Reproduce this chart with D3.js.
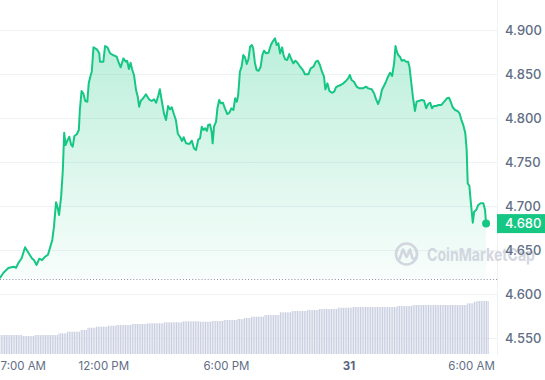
<!DOCTYPE html>
<html><head><meta charset="utf-8">
<script src="https://cdn.jsdelivr.net/npm/d3@7"></script>
<style>
html,body{margin:0;padding:0;background:#fff;}
svg{display:block;font-family:Inter,"Noto Sans",sans-serif;}
</style>
</head><body><svg id="c" width="545" height="380"></svg>
<script>
// ---------- DATA ----------
const startTime = new Date(2023, 9, 30, 7, 0); // 7:00 AM, Oct 30
// price samples: minutes after 7:00 AM and price (USD)
const priceMinutes = [
-4,6,21,36,44,50,60,70,80,90,
96,104,112,120,129,137,143,150,155,161,
165,170,176,181,185,189,195,200,205,210,
215,222,228,231,236,241,247,253,257,263,
266,271,281,288,290,300,305,312,320,328,
339,344,351,359,366,370,375,380,385,390,
396,401,405,410,417,425,434,442,449,455,
461,466,472,478,484,490,496,501,508,513,
519,525,531,536,543,553,560,566,572,579,
584,589,594,599,604,608,613,618,621,625,
631,635,640,645,651,657,664,670,676,682,
687,692,696,701,706,711,716,721,726,731,
736,740,745,750,756,762,767,772,778,785,
792,797,804,809,814,819,825,829,834,840,
846,852,858,864,870,878,886,892,902,909,
917,924,930,936,942,948,952,958,964,971,
978,983,990,997,1005,1013,1019,1024,1029,1036,
1044,1052,1062,1071,1078,1088,1095,1101,1107,1113,
1118,1124,1130,1136,1142,1148,1154,1158,1162,1166,
1171,1176,1183,1189,1195,1199,1204,1209,1215,1220,
1228,1236,1242,1248,1254,1260,1265,1271,1277,1285,
1293,1301,1309,1315,1320,1326,1333,1340,1346,1351,
1357,1363,1367,1370,1375,1379,1385,1389,1395,1401,
1408,1416,1421,1424];
const priceValues = [
4.6178,4.6239,4.6295,4.6310,4.6299,4.6349,4.6406,4.6531,4.6469,4.6406,
4.6386,4.6330,4.6401,4.6386,4.6424,4.6443,4.6519,4.6614,4.6765,4.7042,
4.6992,4.6898,4.7106,4.7409,4.7833,4.7693,4.7750,4.7787,4.7701,4.7674,
4.7795,4.7815,4.7864,4.8091,4.8307,4.8281,4.8193,4.8185,4.8394,4.8489,
4.8526,4.8803,4.8781,4.8735,4.8640,4.8640,4.8818,4.8803,4.8735,4.8716,
4.8697,4.8640,4.8576,4.8678,4.8640,4.8651,4.8557,4.8628,4.8545,4.8489,
4.8318,4.8242,4.8128,4.8197,4.8224,4.8269,4.8212,4.8193,4.8212,4.8174,
4.8250,4.8326,4.8185,4.8053,4.7977,4.8136,4.8099,4.8122,4.8034,4.7977,
4.7818,4.7787,4.7739,4.7781,4.7712,4.7705,4.7742,4.7656,4.7636,4.7758,
4.7769,4.7901,4.7864,4.7883,4.7852,4.7920,4.7928,4.7844,4.7712,4.7901,
4.7958,4.8110,4.8205,4.8167,4.8174,4.8110,4.8045,4.8060,4.8110,4.8091,
4.8224,4.8185,4.8261,4.8526,4.8583,4.8716,4.8690,4.8614,4.8667,4.8810,
4.8830,4.8792,4.8628,4.8545,4.8537,4.8583,4.8716,4.8765,4.8735,4.8742,
4.8830,4.8867,4.8906,4.8830,4.8849,4.8735,4.8803,4.8716,4.8667,4.8659,
4.8727,4.8667,4.8622,4.8651,4.8628,4.8583,4.8545,4.8497,4.8497,4.8565,
4.8583,4.8640,4.8651,4.8602,4.8526,4.8469,4.8326,4.8394,4.8307,4.8287,
4.8299,4.8349,4.8364,4.8375,4.8394,4.8424,4.8451,4.8489,4.8432,4.8412,
4.8356,4.8337,4.8337,4.8356,4.8337,4.8326,4.8281,4.8212,4.8159,4.8224,
4.8318,4.8364,4.8412,4.8469,4.8515,4.8477,4.8622,4.8818,4.8753,4.8716,
4.8697,4.8651,4.8659,4.8640,4.8640,4.8583,4.8412,4.8242,4.8080,4.8185,
4.8197,4.8205,4.8197,4.8110,4.8159,4.8174,4.8110,4.8136,4.8136,4.8148,
4.8148,4.8185,4.8224,4.8231,4.8185,4.8122,4.8091,4.8080,4.8053,4.7985,
4.7920,4.7826,4.7636,4.7258,4.7227,4.7049,4.6810,4.6935,4.6955,4.7011,
4.7031,4.7031,4.6955,4.6800];
const openPrice = 4.6176;
const lastPrice = 4.680;
// volume bars (24h volume, millions), one every 5 minutes starting 7:00 AM - 5 min
const volumeStartMinute = -5;
const volumeStepMinutes = 5;
const volumeValues = [
19,19,19,19,19,19,19,19,19,19,19,19,19,19,
18,18,18,18,18,18,18,
19,19,19,19,19,19,19,19,19,19,19,19,19,19,
20.7,20.7,20.7,20.7,20.7,
22.3,22.3,22.3,22.3,22.3,22.3,22.3,22.3,
24,24,24,24,
26.3,26.3,26.3,26.3,26.3,
27.3,27.3,27.3,27.3,27.3,27.3,27.3,
28.3,28.3,28.3,28.3,28.3,
29,29,29,29,29,29,29,29,29,
30,30,30,30,30,30,30,30,30,
30.7,30.7,30.7,30.7,30.7,30.7,30.7,30.7,30.7,30.7,
31.7,31.7,31.7,31.7,31.7,31.7,31.7,31.7,31.7,31.7,31.7,
32.7,32.7,32.7,32.7,32.7,32.7,32.7,32.7,32.7,32.7,
32.3,32.3,32.3,32.3,32.3,32.3,32.3,
33,33,33,33,33,33,33,
34,34,34,34,34,34,34,34,
35,35,35,35,
36,36,36,36,
37.3,37.3,37.3,37.3,37.3,37.3,37.3,37.3,
39,39,39,39,39,39,39,39,39,
41.7,41.7,41.7,41.7,41.7,41.7,41.7,
43,43,43,43,43,43,43,43,43,
44,44,44,44,44,44,44,
45,45,45,45,45,45,45,45,45,45,45,
46.3,46.3,46.3,46.3,46.3,46.3,46.3,46.3,46.3,
47,47,47,47,47,47,47,47,47,47,47,47,47,47,47,47,47,47,47,47,47,47,47,47,47,47,
48,48,48,48,48,48,48,48,48,
49,49,49,49,49,49,49,49,49,49,49,49,49,49,49,49,49,49,49,49,49,49,49,49,49,49,49,49,49,49,49,49,
50.7,50.7,50.7,50.7,
52.3,52.3,
53,53,53,53,53,53,53];
const yTicks = [4.55, 4.60, 4.65, 4.70, 4.75, 4.80, 4.85, 4.90];
const xTickHours = [0, 5, 11, 17, 23];
const xTickLabels = ["7:00 AM", "12:00 PM", "6:00 PM", "31", "6:00 AM"];
const watermarkText = "CoinMarketCap";

// ---------- CHART ----------
const addMin = (d, m) => new Date(d.getTime() + m * 60000);
const green = "#16c784";
const plotRight = 497;

const svg = d3.select("#c");
const x = d3.scaleTime()
  .domain([startTime, addMin(startTime, 23 * 60)])
  .range([1.2, 471.1]);
const y = d3.scaleLinear().domain([4.55, 4.90]).range([338, 30]);
const yv = d3.scaleLinear().domain([0, 60]).range([354, 294]);

const price = priceMinutes.map((m, i) => ({ t: addMin(startTime, m), v: priceValues[i] }));
const volume = volumeValues.map((v, i) => ({ t: addMin(startTime, volumeStartMinute + i * volumeStepMinutes), v }));

// gradient
const defs = svg.append("defs");
const grad = defs.append("linearGradient").attr("id", "fillGrad")
  .attr("gradientUnits", "userSpaceOnUse")
  .attr("x1", 0).attr("x2", 0).attr("y1", y(4.90)).attr("y2", y(openPrice));
grad.append("stop").attr("offset", 0).attr("stop-color", green).attr("stop-opacity", 0.30);
grad.append("stop").attr("offset", 1).attr("stop-color", green).attr("stop-opacity", 0.03);

// gridlines
svg.append("g").selectAll("line").data(yTicks).join("line")
  .attr("x1", 0).attr("x2", plotRight)
  .attr("y1", d => Math.round(y(d)) + 0.5).attr("y2", d => Math.round(y(d)) + 0.5)
  .attr("stroke", "#eff2f5").attr("stroke-width", 1);
svg.append("line").attr("x1", plotRight + 0.5).attr("x2", plotRight + 0.5)
  .attr("y1", 0).attr("y2", 355).attr("stroke", "#eff2f5");

// volume bars
svg.append("g").selectAll("rect").data(volume).join("rect")
  .attr("x", d => x(d.t) - 0.55)
  .attr("width", 1.1)
  .attr("y", d => yv(d.v))
  .attr("height", d => yv(0) - yv(d.v))
  .attr("fill", "#c8cee0");

// area + line
const area = d3.area().x(d => x(d.t)).y0(y(openPrice)).y1(d => y(d.v));
svg.append("path").datum(price).attr("d", area).attr("fill", "url(#fillGrad)");

// watermark
const wm = svg.append("g").attr("opacity", 0.9);
wm.append("circle").attr("cx", 406.5).attr("cy", 254).attr("r", 10.5)
  .attr("fill", "none").attr("stroke", "#cfd3dd").attr("stroke-width", 2.6);
wm.append("path")
  .attr("d", "M399.5,259 L403,249.5 L406.5,257 L410,249.5 L412.3,258 Q414,260 416.5,257.5")
  .attr("fill", "none").attr("stroke", "#cfd3dd").attr("stroke-width", 2.6)
  .attr("stroke-linejoin", "round").attr("stroke-linecap", "round");
wm.append("text").attr("x", 427).attr("y", 260.5)
  .attr("font-size", 17.5).attr("font-weight", 700).attr("fill", "#cfd3dd")
  .attr("textLength", 108).attr("lengthAdjust", "spacingAndGlyphs")
  .text(watermarkText);

// open price dotted line
svg.append("line").attr("x1", 0).attr("x2", plotRight)
  .attr("y1", Math.round(y(openPrice)) + 0.5).attr("y2", Math.round(y(openPrice)) + 0.5)
  .attr("stroke", "#8a93a3").attr("stroke-width", 1).attr("stroke-dasharray", "1 2.1");

const line = d3.line().x(d => x(d.t)).y(d => y(d.v));
svg.append("path").datum(price).attr("d", line)
  .attr("fill", "none").attr("stroke", green).attr("stroke-width", 2)
  .attr("stroke-linejoin", "round");

// last point
const last = price[price.length - 1];
svg.append("circle").attr("cx", x(last.t)).attr("cy", y(last.v)).attr("r", 4).attr("fill", green);

// y axis
const yAxis = svg.append("g").attr("transform", `translate(${plotRight},0)`)
  .call(d3.axisRight(y).tickValues(yTicks).tickFormat(d3.format(".3f")).tickSize(0).tickPadding(8));
yAxis.select(".domain").remove();
yAxis.selectAll("text").attr("font-family", "Inter, sans-serif").attr("font-size", 13)
  .attr("font-weight", 500).attr("fill", "#616e85");

// price tag
const tagY = y(lastPrice);
svg.append("rect").attr("x", plotRight).attr("y", tagY - 9.5).attr("width", 48).attr("height", 19).attr("fill", green);
svg.append("text").attr("x", plotRight + 8).attr("y", tagY).attr("dy", "0.35em")
  .attr("font-size", 13).attr("font-weight", 500).attr("fill", "#fff")
  .text(d3.format(".3f")(lastPrice));

// x axis
const xAxis = svg.append("g").attr("transform", "translate(0,362)")
  .call(d3.axisBottom(x).tickValues(xTickHours.map(h => addMin(startTime, h * 60)))
    .tickFormat((d, i) => xTickLabels[i]).tickSize(0).tickPadding(0));
xAxis.select(".domain").remove();
xAxis.selectAll("text").attr("font-family", "Inter, sans-serif").attr("font-size", 11.5)
  .attr("fill", "#616e85")
  .attr("font-weight", (d, i) => xTickLabels[i] === "31" ? 700 : 400)
  .attr("fill", (d, i) => xTickLabels[i] === "31" ? "#58667e" : "#616e85");
xAxis.selectAll("text").filter((d, i) => i === 0).attr("text-anchor", "start").attr("x", -1.2);
</script>
</body></html>
